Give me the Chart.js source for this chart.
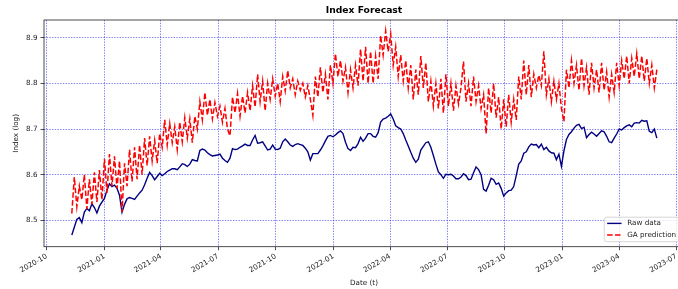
<!DOCTYPE html>
<html><head><meta charset="utf-8">
<script src="https://cdn.jsdelivr.net/npm/chart.js@4"></script>
<style>
html,body{margin:0;padding:0;background:#fff;overflow:hidden;}
#wrap{width:678px;height:289px;overflow:hidden;position:relative;}
canvas{display:block;}
</style></head><body>
<div id="wrap"><canvas id="c" width="690" height="289" style="width:690px;height:289px"></canvas></div>
<script>
const TITLE = 'Index Forecast';
const X_LABEL = 'Date (t)';
const Y_LABEL = 'Index (log)';
const SERIES_NAMES = ['Raw data', 'GA prediction'];
const START_DATE = '2020-11-10';
const STEP_DAYS = 4;

const rawData = [
8.468,8.485,8.502,8.506,8.495,8.518,8.526,8.521,8.536,8.528,
8.516,8.531,8.540,8.548,8.566,8.580,8.574,8.577,8.570,8.555,
8.518,8.535,8.547,8.550,8.548,8.546,8.553,8.560,8.566,8.578,
8.592,8.605,8.598,8.589,8.596,8.603,8.598,8.602,8.607,8.610,
8.613,8.613,8.611,8.617,8.624,8.622,8.618,8.623,8.633,8.631,
8.630,8.653,8.656,8.654,8.648,8.644,8.641,8.642,8.643,8.645,
8.636,8.631,8.627,8.636,8.657,8.655,8.656,8.660,8.663,8.667,
8.664,8.664,8.676,8.686,8.669,8.670,8.672,8.663,8.654,8.656,
8.665,8.656,8.655,8.658,8.672,8.678,8.672,8.665,8.662,8.666,
8.668,8.666,8.664,8.658,8.650,8.632,8.646,8.646,8.646,8.654,
8.663,8.674,8.684,8.686,8.683,8.687,8.692,8.696,8.690,8.671,
8.657,8.653,8.660,8.659,8.668,8.682,8.673,8.680,8.690,8.690,
8.684,8.682,8.692,8.715,8.722,8.724,8.728,8.733,8.722,8.707,
8.703,8.700,8.690,8.676,8.663,8.649,8.636,8.627,8.634,8.654,
8.662,8.670,8.672,8.660,8.642,8.623,8.606,8.600,8.592,8.601,
8.600,8.601,8.597,8.591,8.591,8.595,8.602,8.598,8.589,8.590,
8.604,8.617,8.611,8.600,8.568,8.564,8.577,8.592,8.589,8.579,
8.582,8.570,8.553,8.560,8.565,8.566,8.574,8.598,8.623,8.630,
8.647,8.650,8.661,8.667,8.665,8.666,8.659,8.667,8.655,8.660,
8.652,8.648,8.647,8.633,8.645,8.618,8.652,8.677,8.688,8.694,
8.702,8.708,8.710,8.701,8.704,8.681,8.688,8.693,8.689,8.684,
8.690,8.696,8.694,8.684,8.672,8.670,8.680,8.689,8.700,8.698,
8.703,8.707,8.709,8.705,8.713,8.714,8.713,8.719,8.717,8.718,
8.695,8.692,8.700,8.680
];

const gaPrediction = [
8.515,8.595,8.530,8.575,8.545,8.600,8.525,8.590,8.535,8.605,
8.540,8.610,8.545,8.635,8.560,8.645,8.575,8.640,8.570,8.630,
8.518,8.625,8.575,8.655,8.585,8.660,8.590,8.665,8.600,8.680,
8.620,8.684,8.630,8.675,8.625,8.690,8.660,8.720,8.665,8.712,
8.670,8.705,8.655,8.715,8.672,8.725,8.680,8.722,8.670,8.728,
8.700,8.760,8.720,8.780,8.730,8.765,8.722,8.758,8.728,8.750,
8.715,8.745,8.700,8.685,8.770,8.735,8.778,8.728,8.772,8.735,
8.780,8.740,8.795,8.748,8.820,8.760,8.805,8.740,8.800,8.765,
8.810,8.772,8.800,8.760,8.815,8.783,8.828,8.790,8.810,8.775,
8.805,8.785,8.800,8.770,8.795,8.765,8.730,8.815,8.770,8.835,
8.780,8.820,8.765,8.840,8.800,8.865,8.815,8.850,8.805,8.835,
8.780,8.830,8.790,8.840,8.795,8.875,8.805,8.880,8.800,8.870,
8.800,8.860,8.810,8.905,8.862,8.915,8.870,8.908,8.840,8.880,
8.815,8.862,8.805,8.850,8.790,8.840,8.765,8.830,8.775,8.860,
8.790,8.845,8.760,8.805,8.750,8.800,8.745,8.810,8.735,8.820,
8.750,8.800,8.740,8.795,8.755,8.790,8.848,8.760,8.800,8.750,
8.815,8.760,8.795,8.745,8.775,8.690,8.790,8.735,8.800,8.725,
8.770,8.700,8.765,8.705,8.775,8.715,8.765,8.720,8.815,8.765,
8.850,8.775,8.840,8.770,8.820,8.790,8.818,8.795,8.870,8.775,
8.810,8.760,8.805,8.765,8.800,8.745,8.716,8.830,8.790,8.850,
8.800,8.840,8.785,8.855,8.795,8.835,8.775,8.845,8.790,8.830,
8.780,8.845,8.785,8.825,8.770,8.820,8.780,8.845,8.795,8.850,
8.810,8.860,8.800,8.855,8.815,8.865,8.810,8.860,8.805,8.855,
8.800,8.840,8.790,8.830
];

const xTickLabels = ['2020-10','2021-01','2021-04','2021-07','2021-10','2022-01','2022-04','2022-07','2022-10','2023-01','2023-04','2023-07'];
const yTickValues = [8.5, 8.6, 8.7, 8.8, 8.9];
const X_MIN = '2020-09-26T17:00:00Z';
const X_MAX = '2023-07-13T06:30:00Z';
const Y_MIN = 8.4422;
const Y_MAX = 8.9388;

const DAY = 86400000;
const t0 = Date.parse(START_DATE + 'T00:00:00Z');
const toPts = arr => arr.map((v, i) => ({x: t0 + i * STEP_DAYS * DAY, y: v}));
const xTickValues = xTickLabels.map(s => Date.parse(s + '-01T00:00:00Z'));

const FONT = 'DejaVu Sans';
Chart.defaults.font.family = FONT;
Chart.defaults.font.size = 7.2;
Chart.defaults.color = '#1a1a1a';

const W = 690, H = 289;
const AREA = {left: 44, right: 684, top: 20, bottom: 246.7};
const GRID_COLOR = 'rgba(30,30,240,0.8)';

const decor = {
  id: 'decor',
  afterDatasetsDraw(chart) {
    const {ctx, chartArea: a} = chart;
    ctx.save();
    ctx.strokeStyle = '#222';
    ctx.lineWidth = 0.8;
    ctx.strokeRect(a.left, a.top, a.right - a.left, a.bottom - a.top);
    ctx.restore();
  },
  afterDraw(chart) {
    const {ctx, chartArea: a} = chart;
    ctx.save();
    ctx.fillStyle = '#000';
    ctx.font = 'bold 9.2px "' + FONT + '"';
    ctx.textAlign = 'center';
    ctx.textBaseline = 'middle';
    ctx.fillText(TITLE, (a.left + a.right) / 2, 11);
    ctx.font = '7.2px "' + FONT + '"';
    const fs = 7.2;
    const tw = Math.max(...SERIES_NAMES.map(s => ctx.measureText(s).width));
    const bw = 0.4 * fs + 2 * fs + 0.8 * fs + tw + 0.4 * fs;
    const bh = 24.5;
    const bx = a.right - 5 - bw, by = a.bottom - 5 - bh;
    const r = 2.5;
    ctx.beginPath();
    ctx.moveTo(bx + r, by);
    ctx.lineTo(bx + bw - r, by); ctx.arcTo(bx + bw, by, bx + bw, by + r, r);
    ctx.lineTo(bx + bw, by + bh - r); ctx.arcTo(bx + bw, by + bh, bx + bw - r, by + bh, r);
    ctx.lineTo(bx + r, by + bh); ctx.arcTo(bx, by + bh, bx, by + bh - r, r);
    ctx.lineTo(bx, by + r); ctx.arcTo(bx, by, bx + r, by, r);
    ctx.closePath();
    ctx.fillStyle = 'rgba(255,255,255,0.8)';
    ctx.fill();
    ctx.strokeStyle = '#cccccc';
    ctx.lineWidth = 0.8;
    ctx.stroke();
    const ds = chart.data.datasets;
    const rows = [by + 6.2, by + 17.7];
    ds.forEach((d, k) => {
      const y = rows[k];
      const hx = bx + 0.4 * fs;
      ctx.beginPath();
      ctx.setLineDash(d.borderDash || []);
      ctx.strokeStyle = d.borderColor;
      ctx.lineWidth = d.borderWidth;
      ctx.moveTo(hx, y); ctx.lineTo(hx + 2 * fs, y);
      ctx.stroke();
      ctx.setLineDash([]);
      ctx.fillStyle = '#1a1a1a';
      ctx.textAlign = 'left';
      ctx.textBaseline = 'middle';
      ctx.fillText(d.label, hx + 2.8 * fs, y);
    });
    ctx.restore();
  }
};

new Chart(document.getElementById('c'), {
  type: 'line',
  data: {
    datasets: [
      {label: SERIES_NAMES[0], data: toPts(rawData), borderColor: '#000080', borderWidth: 1.4, pointRadius: 0, tension: 0, fill: false, order: 2},
      {label: SERIES_NAMES[1], data: toPts(gaPrediction), borderColor: '#ff0000', borderWidth: 1.5, borderDash: [5.5, 2.4], pointRadius: 0, tension: 0, fill: false, order: 1}
    ]
  },
  options: {
    responsive: false,
    animation: false,
    devicePixelRatio: 1,
    layout: {padding: {top: AREA.top, right: W - AREA.right, left: 0, bottom: 0}},
    plugins: {legend: {display: false}, tooltip: {enabled: false}, title: {display: false}},
    scales: {
      x: {
        type: 'linear',
        min: Date.parse(X_MIN),
        max: Date.parse(X_MAX),
        afterBuildTicks: s => { s.ticks = xTickValues.map(v => ({value: v})); },
        afterFit: s => { s.height = H - AREA.bottom; },
        ticks: {
          autoSkip: false, maxRotation: 30, minRotation: 30, padding: 2,
          callback: (v, i) => xTickLabels[i]
        },
        grid: {color: GRID_COLOR, lineWidth: 0.7, tickColor: '#222', tickWidth: 0.8, tickLength: 3.5, tickBorderDash: []},
        border: {display: false, dash: [1.4, 1.3]},
        title: {display: true, text: X_LABEL, padding: {top: 0, bottom: 2}, font: {size: 7.2}}
      },
      y: {
        type: 'linear',
        min: Y_MIN,
        max: Y_MAX,
        afterBuildTicks: s => { s.ticks = yTickValues.map(v => ({value: v})); },
        afterFit: s => { s.width = AREA.left; },
        ticks: {padding: 3, callback: v => Number(v).toFixed(1)},
        grid: {color: GRID_COLOR, lineWidth: 0.7, tickColor: '#222', tickWidth: 0.8, tickLength: 3.5, tickBorderDash: []},
        border: {display: false, dash: [1.4, 1.3]},
        title: {display: true, text: Y_LABEL, padding: {top: 12, bottom: 0}, font: {size: 7.2}}
      }
    }
  },
  plugins: [decor]
});
</script>
</body></html>
